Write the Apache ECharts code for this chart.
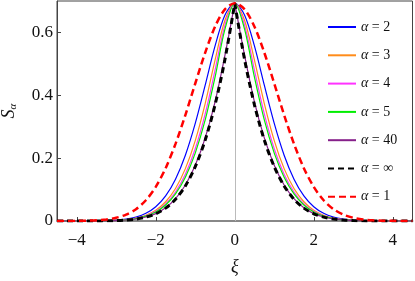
<!DOCTYPE html>
<html lang="en" style="height: 100%">
<head>
    <meta charset="UTF-8">
    <title>Renyi entropies</title>
    <script src="https://cdn.jsdelivr.net/npm/echarts@6/dist/echarts.min.js"></script>
</head>
<body style="height: 100%; margin: 0; background: #fff">
    <div id="main" style="width: 415px; height: 281px"></div>
    <script>
        // xi grid
        var xs = [-4.5, -4.25, -4, -3.75, -3.5, -3.25, -3, -2.75, -2.5, -2.25, -2, -1.75, -1.5, -1.25, -1, -0.75, -0.5, -0.25,
            0, 0.25, 0.5, 0.75, 1, 1.25, 1.5, 1.75, 2, 2.25, 2.5, 2.75, 3, 3.25, 3.5, 3.75, 4, 4.25, 4.5];

        // S_alpha
        var sA2 = [0, 0, 0.0001, 0.0002, 0.0005, 0.0012, 0.0027, 0.0060, 0.0124, 0.0244, 0.0455, 0.0800, 0.1332, 0.2094, 0.3106, 0.4315, 0.5563, 0.6549,
            0.6931, 0.6549, 0.5563, 0.4315, 0.3106, 0.2094, 0.1332, 0.0800, 0.0455, 0.0244, 0.0124, 0.0060, 0.0027, 0.0012, 0.0005, 0.0002, 0.0001, 0, 0];
        var sA3 = [0, 0, 0.0001, 0.0001, 0.0004, 0.0009, 0.0020, 0.0045, 0.0093, 0.0184, 0.0345, 0.0613, 0.1035, 0.1666, 0.2559, 0.3730, 0.5108, 0.6379,
            0.6931, 0.6379, 0.5108, 0.3730, 0.2559, 0.1666, 0.1035, 0.0613, 0.0345, 0.0184, 0.0093, 0.0045, 0.0020, 0.0009, 0.0004, 0.0001, 0.0001, 0, 0];
        var sA4 = [0, 0, 0, 0.0001, 0.0003, 0.0008, 0.0018, 0.0040, 0.0083, 0.0164, 0.0307, 0.0545, 0.0922, 0.1487, 0.2300, 0.3402, 0.4789, 0.6227,
            0.6931, 0.6227, 0.4789, 0.3402, 0.2300, 0.1487, 0.0922, 0.0545, 0.0307, 0.0164, 0.0083, 0.0040, 0.0018, 0.0008, 0.0003, 0.0001, 0, 0, 0];
        var sA5 = [0, 0, 0, 0.0001, 0.0003, 0.0007, 0.0017, 0.0037, 0.0078, 0.0154, 0.0288, 0.0511, 0.0864, 0.1395, 0.2160, 0.3207, 0.4568, 0.6095,
            0.6931, 0.6095, 0.4568, 0.3207, 0.2160, 0.1395, 0.0864, 0.0511, 0.0288, 0.0154, 0.0078, 0.0037, 0.0017, 0.0007, 0.0003, 0.0001, 0, 0, 0];
        var sA40 = [0, 0, 0, 0.0001, 0.0002, 0.0006, 0.0014, 0.0031, 0.0064, 0.0126, 0.0236, 0.0419, 0.0709, 0.1145, 0.1772, 0.2635, 0.3784, 0.5262,
            0.6931, 0.5262, 0.3784, 0.2635, 0.1772, 0.1145, 0.0709, 0.0419, 0.0236, 0.0126, 0.0064, 0.0031, 0.0014, 0.0006, 0.0002, 0.0001, 0, 0, 0];
        var sInf = [0, 0, 0, 0.0001, 0.0002, 0.0006, 0.0014, 0.0030, 0.0062, 0.0123, 0.0230, 0.0409, 0.0691, 0.1116, 0.1728, 0.2569, 0.3689, 0.5130,
            0.6931, 0.5130, 0.3689, 0.2569, 0.1728, 0.1116, 0.0691, 0.0409, 0.0230, 0.0123, 0.0062, 0.0030, 0.0014, 0.0006, 0.0002, 0.0001, 0, 0, 0];
        var sA1 = [0.0001, 0.0001, 0.0004, 0.0009, 0.0022, 0.0049, 0.0103, 0.0203, 0.0377, 0.0660, 0.1086, 0.1681, 0.2453, 0.3372, 0.4375, 0.5351, 0.6179, 0.6735,
            0.6931, 0.6735, 0.6179, 0.5351, 0.4375, 0.3372, 0.2453, 0.1681, 0.1086, 0.0660, 0.0377, 0.0203, 0.0103, 0.0049, 0.0022, 0.0009, 0.0004, 0.0001, 0.0001];

        var legendNames = ['2', '3', '4', '5', '40', '∞', '1'];
        var xTicks = [-4, -2, 0, 2, 4];
        var yTicks = [0, 0.2, 0.4, 0.6];

        var font = 'Liberation Serif';

        function pts(ys) {
            return xs.map(function (x, i) { return [x, ys[i]]; });
        }
        var mid = xs.indexOf(0);

        function line(name, data, color, width, type) {
            return {
                name: name,
                type: 'line',
                data: data,
                symbol: 'none',
                smooth: 0.3,
                silent: true,
                lineStyle: { color: color, width: width, type: type || 'solid' },
                itemStyle: { color: color }
            };
        }

        var series = [
            line('2', pts(sA2), '#0000ff', 1.2),
            line('3', pts(sA3), '#ff8c1a', 1.2),
            line('4', pts(sA4), '#ff33ff', 1.2),
            line('5', pts(sA5), '#00ee00', 1.2),
            // cusp at the peak, so draw the two halves separately
            line('40', pts(sA40).slice(0, mid + 1), '#86208a', 1.2),
            line('40', pts(sA40).slice(mid), '#86208a', 1.2),
            line('∞', pts(sInf).slice(0, mid + 1), '#000000', 3, [6, 4]),
            line('∞', pts(sInf).slice(mid), '#000000', 3, [6, 4]),
            line('1', pts(sA1), '#ff0000', 2.5, [7, 4])
        ];
        // thin grey line at xi = 0
        series[0].markLine = {
            silent: true,
            symbol: 'none',
            label: { show: false },
            lineStyle: { color: '#bbbbbb', width: 1, type: 'solid' },
            data: [{ xAxis: 0 }],
            z: 1
        };

        var myChart = echarts.init(document.getElementById('main'));
        myChart.setOption({
            animation: false,
            grid: {
                left: 57, right: 2.5, top: 1, bottom: 60,
                containLabel: false,
                outerBoundsMode: 'none',
                show: true, borderColor: '#444', borderWidth: 1
            },
            legend: {
                data: legendNames,
                orient: 'vertical',
                left: 322,
                top: 15,
                itemWidth: 28,
                itemHeight: 14,
                itemGap: 14.3,
                itemStyle: { opacity: 0 },
                formatter: function (n) { return '{i|α} = ' + n; },
                textStyle: {
                    fontFamily: font, fontSize: 14, color: '#111', lineHeight: 14,
                    rich: { i: { fontFamily: font, fontStyle: 'italic', fontSize: 14, color: '#111' } }
                }
            },
            xAxis: {
                type: 'value',
                min: -4.5,
                max: 4.5,
                name: 'ξ',
                nameLocation: 'middle',
                nameGap: 37,
                nameTextStyle: { fontFamily: font, fontStyle: 'italic', fontSize: 18, color: '#111' },
                axisLine: { show: true, onZero: false, lineStyle: { color: '#888', width: 2 } },
                axisTick: { show: true, inside: true, length: 4, customValues: xTicks, lineStyle: { color: '#444' } },
                axisLabel: {
                    customValues: xTicks,
                    margin: 11,
                    fontFamily: font, fontSize: 17, color: '#111',
                    formatter: function (v) { return String(v).replace('-', '−'); }
                },
                splitLine: { show: false }
            },
            yAxis: {
                type: 'value',
                min: 0,
                max: 0.7,
                name: '{s|S}{a|α}',
                nameLocation: 'middle',
                nameRotate: 90,
                nameGap: 38,
                nameTextStyle: {
                    rich: {
                        s: { fontFamily: font, fontStyle: 'italic', fontSize: 18, color: '#111' },
                        a: { fontFamily: font, fontStyle: 'italic', fontSize: 11, color: '#111', padding: [8, 0, 0, 0] }
                    }
                },
                axisLine: { show: true, onZero: false, lineStyle: { color: '#444', width: 1 } },
                axisTick: { show: true, inside: true, length: 4, customValues: yTicks, lineStyle: { color: '#444' } },
                axisLabel: {
                    customValues: yTicks,
                    margin: 4,
                    fontFamily: font, fontSize: 17, color: '#111',
                    formatter: function (v) { return String(v); }
                },
                splitLine: { show: false }
            },
            series: series
        });
    </script>
</body>
</html>
